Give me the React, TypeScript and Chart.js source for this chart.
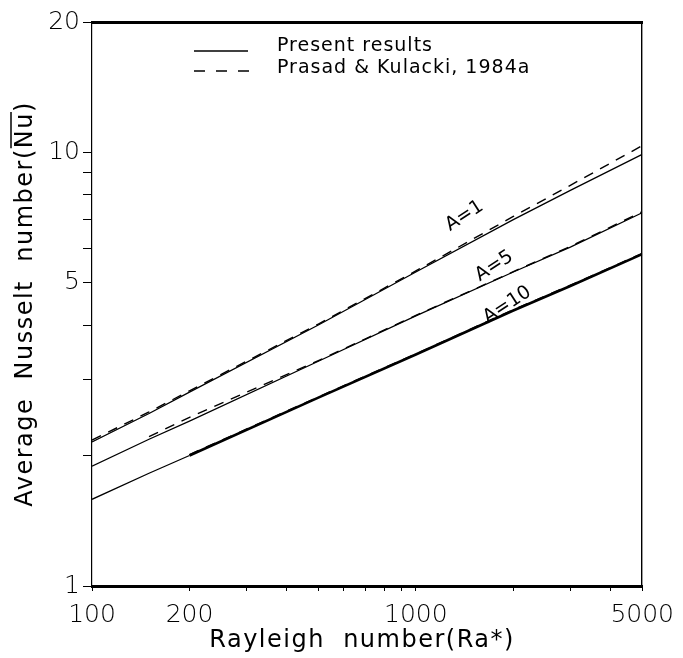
import { useEffect, useRef } from 'react';
import { Chart, registerables } from 'chart.js';

Chart.register(...registerables);

// Rayleigh numbers (Ra*) where values were read
const raPoints = [100, 150, 200, 500, 1000, 2000, 3000, 5000];

// Present results (solid)
const presentA1 = [2.15, 2.5, 2.8, 4.0, 5.3, 7.0, 8.18, 9.9];
const presentA5 = [1.89, 2.18, 2.4, 3.3, 4.2, 5.3, 6.05, 7.26];
const presentA10 = [1.585, 1.82, 2.0, 2.72, 3.42, 4.32, 4.92, 5.83];

// Prasad & Kulacki, 1984a (dashed)
const prasadA1 = [2.17, 2.52, 2.82, 4.02, 5.33, 7.12, 8.4, 10.37];
const prasadA5 = [null, 2.21, 2.45, 3.31, 4.21, 5.31, 6.07, 7.3];
const prasadA10 = [null, null, 2.01, 2.73, 3.43, 4.34, 4.94, 5.85];

// Axis ticks
const xTickValues = [100, 200, 300, 400, 500, 600, 700, 800, 900, 1000, 2000, 3000, 4000, 5000];
const xTickLabels = [100, 200, 1000, 5000];
const yTickValues = [1, 2, 3, 4, 5, 6, 7, 8, 9, 10, 20];
const yTickLabels = [1, 5, 10, 20];

// Curve annotations
const curveLabels = ['A=1', 'A=5', 'A=10'];
const curveLabelRa = [1413, 1747, 1915];
const curveLabelNu = [7.14, 5.47, 4.45];

const legendLabels = ['Present results', 'Prasad & Kulacki, 1984a'];

const FONT = "'DejaVu Sans', 'Liberation Sans', sans-serif";

const toXY = (vals: (number | null)[]) =>
  raPoints.map((r, i) => ({ x: r, y: vals[i] })).filter((p) => p.y !== null);

const overlay = {
  id: 'overlay',
  afterDraw(chart: any) {
    const { ctx, chartArea, scales } = chart;
    const x = scales.x;
    const y = scales.y;
    ctx.save();
    ctx.fillStyle = '#000';
    ctx.strokeStyle = '#000';

    // Legend
    const lx0 = chartArea.left + 102;
    const lx1 = lx0 + 54;
    ctx.lineWidth = 1.6;
    ctx.beginPath();
    ctx.moveTo(lx0, chartArea.top + 29);
    ctx.lineTo(lx1, chartArea.top + 29);
    ctx.stroke();
    ctx.setLineDash([11, 11]);
    ctx.beginPath();
    ctx.moveTo(lx0, chartArea.top + 49);
    ctx.lineTo(lx1 + 1, chartArea.top + 49);
    ctx.stroke();
    ctx.setLineDash([]);
    ctx.font = `19px ${FONT}`;
    (ctx as any).letterSpacing = '1px';
    ctx.textAlign = 'left';
    ctx.textBaseline = 'alphabetic';
    ctx.fillText(legendLabels[0], lx0 + 83, chartArea.top + 29);
    ctx.fillText(legendLabels[1], lx0 + 83, chartArea.top + 51);

    // Curve labels
    ctx.font = `19px ${FONT}`;
    (ctx as any).letterSpacing = '0px';
    ctx.textAlign = 'center';
    ctx.textBaseline = 'middle';
    curveLabels.forEach((t, i) => {
      const px = x.getPixelForValue(curveLabelRa[i]);
      const py = y.getPixelForValue(curveLabelNu[i]);
      ctx.save();
      ctx.translate(px, py);
      ctx.rotate((-33 * Math.PI) / 180);
      ctx.fillText(t, 0, 0);
      ctx.restore();
    });

    // X title
    ctx.font = `24px ${FONT}`;
    (ctx as any).letterSpacing = '1.5px';
    ctx.textAlign = 'center';
    ctx.textBaseline = 'alphabetic';
    ctx.fillText('Rayleigh  number(Ra*)', (chartArea.left + chartArea.right) / 2 - 5, 647);

    // Y title (rotated) with overline on Nu
    const pre = 'Average  Nusselt  number(';
    const nu = 'Nu';
    const full = pre + nu + ')';
    ctx.save();
    ctx.translate(32, (chartArea.top + chartArea.bottom) / 2);
    ctx.rotate(-Math.PI / 2);
    ctx.textAlign = 'left';
    const W = ctx.measureText(full).width;
    const w1 = ctx.measureText(pre).width;
    const w2 = ctx.measureText(nu).width;
    ctx.fillText(full, -W / 2, 0);
    ctx.lineWidth = 1.5;
    ctx.beginPath();
    ctx.moveTo(-W / 2 + w1, -21);
    ctx.lineTo(-W / 2 + w1 + w2, -21);
    ctx.stroke();
    ctx.restore();

    ctx.restore();
  },
};

export default function App() {
  const ref = useRef<HTMLCanvasElement>(null);

  useEffect(() => {
    if (!ref.current) return;
    const solid = (data: any) => ({
      data,
      borderColor: '#000',
      borderWidth: 1.3,
      pointRadius: 0,
      fill: false,
      tension: 0,
    });
    const dashed = (data: any) => ({
      data,
      borderColor: '#000',
      borderWidth: 1.4,
      borderDash: [10, 8],
      pointRadius: 0,
      fill: false,
      tension: 0,
    });
    const chart = new Chart(ref.current, {
      type: 'line',
      data: {
        datasets: [
          { label: 'Present A=1', ...solid(toXY(presentA1)) },
          { label: 'Present A=5', ...solid(toXY(presentA5)) },
          {
            label: 'Present A=10',
            ...solid(toXY(presentA10)),
            segment: { borderWidth: (c: any) => (c.p0.parsed.x >= 200 ? 2.6 : 1.3) },
          },
          { label: 'Prasad A=1', ...dashed(toXY(prasadA1)) },
          { label: 'Prasad A=5', ...dashed(toXY(prasadA5)) },
          { label: 'Prasad A=10', ...dashed(toXY(prasadA10)) },
        ],
      },
      options: {
        animation: false,
        responsive: false,
        devicePixelRatio: 1,
        layout: { padding: { left: 0, right: 37, top: 22, bottom: 0 } },
        plugins: { legend: { display: false }, tooltip: { enabled: false } },
        scales: {
          x: {
            type: 'logarithmic',
            position: 'bottom',
            min: 100,
            max: 5000,
            afterBuildTicks: (s: any) => {
              s.ticks = xTickValues.map((v) => ({ value: v }));
            },
            afterFit: (s: any) => {
              s.height = 72;
            },
            ticks: {
              autoSkip: false,
              maxRotation: 0,
              padding: 9,
              color: '#000',
              font: { family: FONT, size: 25, weight: '200' as any },
              callback: (v: any) => (xTickLabels.includes(Number(v)) ? String(v) : ''),
            },
            grid: { display: true, drawOnChartArea: false, drawTicks: true, tickLength: 5, color: '#000', lineWidth: 1 },
            border: { display: true, color: '#000', width: 3 },
          },
          x2: {
            type: 'logarithmic',
            position: 'top',
            min: 100,
            max: 5000,
            afterFit: (s: any) => {
              s.height = 0;
            },
            ticks: { display: false },
            grid: { display: false },
            border: { display: true, color: '#000', width: 3 },
          },
          y: {
            type: 'logarithmic',
            position: 'left',
            min: 1,
            max: 20,
            afterBuildTicks: (s: any) => {
              s.ticks = yTickValues.map((v) => ({ value: v }));
            },
            afterFit: (s: any) => {
              s.width = 92;
            },
            ticks: {
              autoSkip: false,
              padding: 3,
              color: '#000',
              font: { family: FONT, size: 25, weight: '200' as any },
              callback: (v: any) => (yTickLabels.includes(Number(v)) ? String(v) : ''),
            },
            grid: { display: true, drawOnChartArea: false, drawTicks: true, tickLength: 9, color: '#000', lineWidth: 1 },
            border: { display: true, color: '#000', width: 1.2, dash: [9, 3, 2, 3] },
          },
          y2: {
            type: 'logarithmic',
            position: 'right',
            min: 1,
            max: 20,
            afterFit: (s: any) => {
              s.width = 0;
            },
            ticks: { display: false },
            grid: { display: false },
            border: { display: true, color: '#000', width: 1.4, dash: [3, 6] },
          },
        },
      } as any,
      plugins: [overlay],
    });
    return () => chart.destroy();
  }, []);

  return (
    <div style={{ position: 'fixed', left: 0, top: 0, width: 683, height: 658, background: '#fff' }}>
      <canvas ref={ref} width={683} height={658} style={{ display: 'block', width: 683, height: 658 }} />
    </div>
  );
}
